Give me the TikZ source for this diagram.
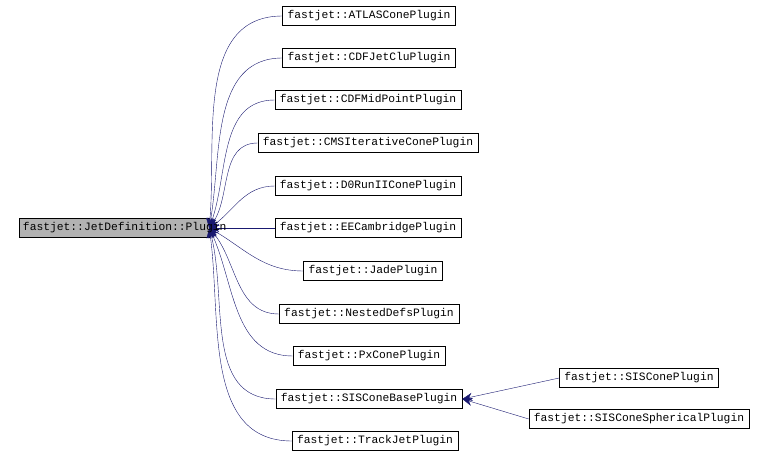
\documentclass[tikz,border=0pt]{standalone}
\usepackage{fontspec}
\setmainfont{Liberation Mono}
\usetikzlibrary{positioning, arrows.meta}
\definecolor{edgeblue}{RGB}{25,25,112}
\tikzstyle{cls} = [rectangle, draw, fill=white, inner xsep=5pt, inner ysep=0pt, minimum height=19pt, font=\fontsize{11.3}{12}\selectfont]
\tikzstyle{base} = [cls, fill=gray!60, text width=182pt, align=left, inner xsep=4pt]
\tikzstyle{arrow} = [edgeblue, -{Stealth[length=10pt, width=8pt]}]

\begin{document}
\begin{tikzpicture}[x=1pt, y=-1pt]
  \useasboundingbox (0,0) rectangle (758,457);

  % Base class
  \node (plugin) [base] at (114,228) {\phantom{fastjet::JetDefinition::Plugin}};

  % Derived classes
  \node (atlas) [cls] at (369,16) {fastjet::ATLASConePlugin};
  \node (cdfclu) [cls] at (369,58) {fastjet::CDFJetCluPlugin};
  \node (cdfmid) [cls] at (368,100) {fastjet::CDFMidPointPlugin};
  \node (cms) [cls] at (368,143) {fastjet::CMSIterativeConePlugin};
  \node (dzero) [cls] at (368,186) {fastjet::D0RunIIConePlugin};
  \node (ee) [cls] at (368,228) {fastjet::EECambridgePlugin};
  \node (jade) [cls] at (373,271) {fastjet::JadePlugin};
  \node (nested) [cls] at (369,314) {fastjet::NestedDefsPlugin};
  \node (pxcone) [cls] at (369,356) {fastjet::PxConePlugin};
  \node (siscbase) [cls] at (369,399) {fastjet::SISConeBasePlugin};
  \node (trackjet) [cls] at (375,441) {fastjet::TrackJetPlugin};

  % SISCone family
  \node (sisc) [cls] at (639,378) {fastjet::SISConePlugin};
  \node (siscsph) [cls] at (639,419) {fastjet::SISConeSphericalPlugin};

  % Inheritance arrows
  \draw[arrow] (atlas.west) to[out=180, in=85] (plugin.east);
  \draw[arrow] (cdfclu.west) to[out=180, in=80] (plugin.east);
  \draw[arrow] (cdfmid.west) to[out=180, in=70] (plugin.east);
  \draw[arrow] (cms.west) to[out=180, in=55] (plugin.east);
  \draw[arrow] (dzero.west) to[out=180, in=35] (plugin.east);
  \draw[arrow] (ee.west) -- (plugin.east);
  \draw[arrow] (jade.west) to[out=180, in=-30] (plugin.east);
  \draw[arrow] (nested.west) to[out=180, in=-50] (plugin.east);
  \draw[arrow] (pxcone.west) to[out=180, in=-65] (plugin.east);
  \draw[arrow] (siscbase.west) to[out=180, in=-75] (plugin.east);
  \draw[arrow] (trackjet.west) to[out=180, in=-82] (plugin.east);
  \draw[arrow] (sisc.west) -- (siscbase.east);
  \draw[arrow] (siscsph.west) -- (siscbase.east);

  % Base class label on top of the arrow tips
  \node (pluginlabel) [font=\fontsize{11.3}{12}\selectfont, anchor=west, inner sep=0pt] at ([xshift=4pt]plugin.west) {fastjet::JetDefinition::Plugin};

\end{tikzpicture}
\end{document}
